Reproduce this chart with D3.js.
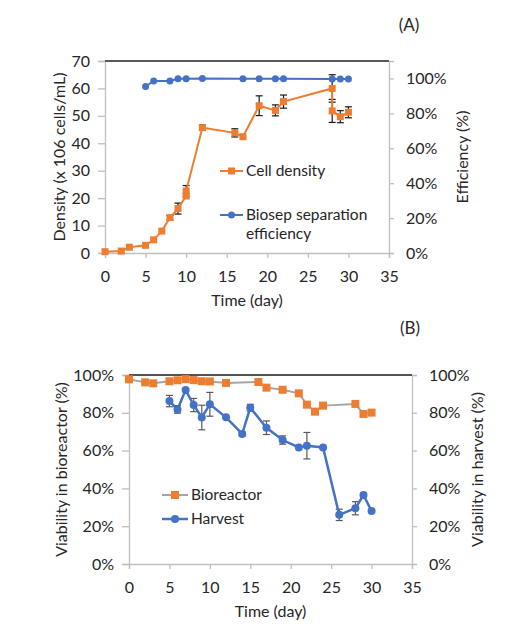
<!DOCTYPE html>
<html>
<head>
<meta charset="utf-8">
<script src="https://cdn.jsdelivr.net/npm/d3@7"></script>
<style>
body { margin:0; background:#fff; }
svg text { font-family: Lato, "Open Sans", sans-serif; fill:#262626; }
</style>
</head>
<body>
<svg id="chart" width="523" height="638"></svg>
<script>
// ---- panel A: cell density + separation efficiency
const densityDays = [0, 2, 3, 5, 6, 7, 8, 9, 10, 10, 12, 16, 17, 19, 21, 22, 28, 28, 29, 30];
const densityVals = [0.5, 0.7, 2.1, 2.8, 4.8, 8, 12.9, 16.2, 20.8, 22.6, 45.7, 43.8, 42.4, 53.7, 52, 55.2, 60, 51.8, 49.7, 51.3];
const densityErr  = [0, 0, 0, 0, 0, 0, 0.8, 2, 0, 2, 1, 1.5, 0, 3.6, 2, 2.4, 5, 4.2, 2.2, 2];

const effDays = [5, 6, 8, 9, 10, 12, 17, 19, 21, 22, 28, 29, 30];
const effVals = [0.954, 0.986, 0.986, 0.998, 0.998, 1.0, 0.998, 0.998, 0.998, 0.998, 0.997, 0.997, 0.997];

// ---- panel B: viability
const bioDays = [0, 2, 3, 5, 6, 7, 8, 9, 10, 12, 16, 17, 19, 21, 22, 23, 24, 28, 29, 30];
const bioVals = [0.977, 0.961, 0.956, 0.967, 0.972, 0.978, 0.973, 0.967, 0.966, 0.958, 0.963, 0.933, 0.922, 0.903, 0.843, 0.806, 0.838, 0.847, 0.794, 0.801];
const bioErr  = [0, 0, 0, 0, 0, 0, 0, 0, 0, 0, 0, 0, 0.01, 0, 0, 0, 0, 0, 0, 0];

const harvestDays = [5, 6, 7, 8, 9, 10, 12, 14, 15, 17, 19, 21, 22, 24, 26, 28, 29, 30];
const harvestVals = [0.862, 0.818, 0.921, 0.841, 0.775, 0.845, 0.776, 0.688, 0.827, 0.721, 0.656, 0.617, 0.626, 0.617, 0.26, 0.295, 0.365, 0.28];
const harvestErr  = [0.03, 0.02, 0, 0.035, 0.065, 0.063, 0, 0.01, 0.018, 0.036, 0.022, 0, 0.07, 0, 0.03, 0.035, 0.01, 0];

const dayTicks = [0, 5, 10, 15, 20, 25, 30, 35];
const densityTicks = [0, 10, 20, 30, 40, 50, 60, 70];
const pctTicks = [0, 0.2, 0.4, 0.6, 0.8, 1.0];

const ORANGE = "#ED7D31", BLUE = "#4472C4", GREY = "#A5A5A5", AXIS = "#BFBFBF";

const svg = d3.select("#chart");

function styleAxis(g) {
  g.select(".domain").attr("stroke", AXIS).attr("stroke-width", 1.3);
  g.selectAll(".tick line").attr("stroke", AXIS).attr("stroke-width", 1.3);
  g.selectAll(".tick text").attr("font-size", 16).attr("fill", "#404040")
    .style("font-family", "Lato, 'Open Sans', sans-serif");
}

function frame(x, yL, yR, leftFmt, titles) {
  let [x0, x1] = x.range();
  let [yb, yt] = yL.range();

  let xa = svg.append("g").attr("transform", `translate(0,${yb})`)
    .call(d3.axisBottom(x).tickValues(dayTicks).tickSize(5).tickPadding(13));
  styleAxis(xa);

  let la = svg.append("g").attr("transform", `translate(${x0},0)`)
    .call(d3.axisLeft(yL).tickValues(leftFmt.ticks).tickFormat(leftFmt.fmt).tickSize(7).tickPadding(8));
  styleAxis(la);

  let ra = svg.append("g").attr("transform", `translate(${x1},0)`)
    .call(d3.axisRight(yR).tickValues(pctTicks).tickFormat(d3.format(".0%")).tickSize(5).tickPadding(12));
  styleAxis(ra);

  // dark top border like the original
  svg.append("line").attr("x1", x0).attr("x2", x1).attr("y1", yt).attr("y2", yt)
    .attr("stroke", titles.topColor).attr("stroke-width", titles.topWidth);

  svg.append("text").attr("x", (x0 + x1) / 2).attr("y", yb + 53)
    .attr("text-anchor", "middle").attr("font-size", 16).text("Time (day)");

  svg.append("text").attr("transform", `translate(${titles.lx},${(yb + yt) / 2}) rotate(-90)`)
    .attr("text-anchor", "middle").attr("dy", "0.35em").attr("font-size", 16).text(titles.left);
  svg.append("text").attr("transform", `translate(${titles.rx},${(yb + yt) / 2}) rotate(-90)`)
    .attr("text-anchor", "middle").attr("dy", "0.35em").attr("font-size", 16).text(titles.right);
}

function series(xs, ys, errs, x, y, o) {
  let pts = xs.map((d, i) => [x(d), y(ys[i]), errs ? errs[i] : 0, ys[i]]);
  let g = svg.append("g");

  // error bars
  pts.filter(p => p[2] > 0).forEach(p => {
    let top = y(p[3] + p[2]), bot = y(p[3] - p[2]);
    g.append("line").attr("x1", p[0]).attr("x2", p[0]).attr("y1", top).attr("y2", bot)
      .attr("stroke", o.errColor).attr("stroke-width", 1.2);
    [top, bot].forEach(yy => g.append("line").attr("x1", p[0] - 3.5).attr("x2", p[0] + 3.5)
      .attr("y1", yy).attr("y2", yy).attr("stroke", o.errColor).attr("stroke-width", 1.2));
  });

  g.append("path").attr("d", d3.line()(pts.map(p => [p[0], p[1]])))
    .attr("fill", "none").attr("stroke", o.line).attr("stroke-width", o.width);

  pts.forEach(p => marker(g, p[0], p[1], o));
}

function marker(g, cx, cy, o) {
  if (o.shape == "square") {
    g.append("rect").attr("x", cx - o.size / 2).attr("y", cy - o.size / 2)
      .attr("width", o.size).attr("height", o.size).attr("fill", o.fill);
  } else {
    g.append("circle").attr("cx", cx).attr("cy", cy).attr("r", o.size / 2).attr("fill", o.fill);
  }
}

function legendItem(x0, x1, y, o, lines) {
  svg.append("line").attr("x1", x0).attr("x2", x1).attr("y1", y).attr("y2", y)
    .attr("stroke", o.line).attr("stroke-width", o.width);
  marker(svg, (x0 + x1) / 2, y, o);
  // wrapped lines need a bit more room than 16px at this size
  let t = svg.append("text").attr("x", x1 + 3).attr("y", y + 5).attr("font-size", 15.5);
  lines.forEach((s, i) => t.append("tspan").attr("x", x1 + 3).attr("dy", i ? 19 : 0).text(s));
}

// ---------- panel A
let xA = d3.scaleLinear().domain([0, 35]).range([105, 389]);
let yA = d3.scaleLinear().domain([0, 70]).range([253, 61]);
let yA2 = d3.scaleLinear().domain([0, 1.1]).range([253, 61]);

frame(xA, yA, yA2, { ticks: densityTicks, fmt: d3.format("d") },
  { left: "Density (x 106 cells/mL)", right: "Efficiency (%)", lx: 59, rx: 462, topColor: "#595959", topWidth: 2 });

const densStyle = { line: ORANGE, width: 2, fill: ORANGE, shape: "square", size: 7, errColor: "#1a1a1a" };
const effStyle = { line: BLUE, width: 2, fill: BLUE, shape: "circle", size: 7, errColor: "#1a1a1a" };
series(densityDays, densityVals, densityErr, xA, yA, densStyle);
series(effDays, effVals, null, xA, yA2, effStyle);

legendItem(220, 243, 171, densStyle, ["Cell density"]);
legendItem(220, 243, 215, effStyle, ["Biosep separation", "efficiency"]);

svg.append("text").attr("x", 409).attr("y", 31).attr("text-anchor", "middle").attr("font-size", 17).text("(A)");

// ---------- panel B
let xB = d3.scaleLinear().domain([0, 35]).range([129, 412]);
let yB = d3.scaleLinear().domain([0, 1]).range([564, 375]);
let yB2 = d3.scaleLinear().domain([0, 1]).range([564, 375]);

frame(xB, yB, yB2, { ticks: pctTicks, fmt: d3.format(".0%") },
  { left: "Viability in bioreactor (%)", right: "Viability in harvest (%)", lx: 61, rx: 477, topColor: "#1a1a1a", topWidth: 1.3 });

const bioStyle = { line: GREY, width: 2, fill: ORANGE, shape: "square", size: 8, errColor: "#333" };
const harvStyle = { line: BLUE, width: 2.5, fill: BLUE, shape: "circle", size: 8, errColor: "#595959" };
series(bioDays, bioVals, bioErr, xB, yB, bioStyle);
series(harvestDays, harvestVals, harvestErr, xB, yB2, harvStyle);

legendItem(162, 188, 495, bioStyle, ["Bioreactor"]);
legendItem(162, 188, 519, harvStyle, ["Harvest"]);

svg.append("text").attr("x", 410).attr("y", 334).attr("text-anchor", "middle").attr("font-size", 17).text("(B)");
</script>
</body>
</html>
